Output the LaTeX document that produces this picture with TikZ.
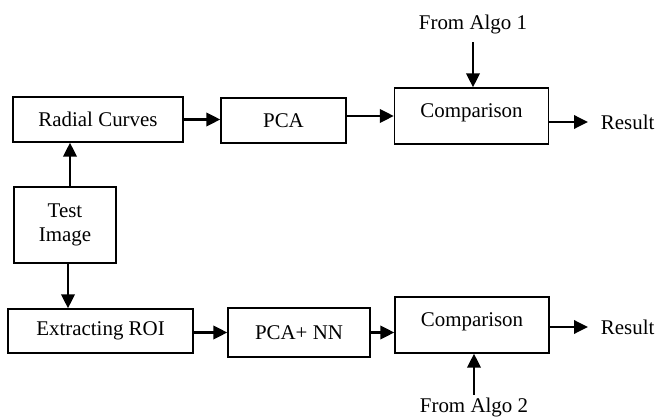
\documentclass[tikz,border=0pt]{standalone}
\usepackage{fontspec}
\setmainfont{Liberation Serif}
\usetikzlibrary{arrows.meta}

\begin{document}
\begin{tikzpicture}[x=0.75pt,y=-0.75pt,
	every node/.style={font=\fontsize{15.7}{18}\selectfont},
	blk/.style={draw,line width=1pt,inner sep=0pt,align=center},
	cmpbox/.style={blk,minimum width=154*0.75pt,minimum height=56*0.75pt,text height=10.6pt,text depth=7.9pt},
	lbl/.style={inner sep=2pt},
	arr/.style={line width=1.8pt,-{Triangle[length=10.5pt,width=10pt]}}]
	\useasboundingbox (0,0) rectangle (658,417);
	% upper row
	\node[blk,minimum width=170*0.75pt,minimum height=45*0.75pt] (rc) at (98,119.5) {Radial Curves};
	\node[blk,minimum width=125*0.75pt,minimum height=45*0.75pt] (pca) at (283.5,120.5) {PCA};
	\node[cmpbox] (cmp1) at (471.5,116) {Comparison};
	\node[lbl] (from1) at (473,24) {From Algo 1};
	\node[lbl,anchor=west] (res1) at (598,122) {Result};
	% test image
	\node[blk,minimum width=102*0.75pt,minimum height=76*0.75pt] (test) at (65,225) {Test\\Image};
	% lower row
	\node[blk,minimum width=185*0.75pt,minimum height=44*0.75pt] (roi) at (100.5,331) {Extracting ROI};
	\node[blk,minimum width=142*0.75pt,minimum height=49*0.75pt] (pcann) at (299,332.5) {PCA+ NN};
	\node[cmpbox] (cmp2) at (472,325) {Comparison};
	\node[lbl] (from2) at (474,407) {From Algo 2};
	\node[lbl,anchor=west] (res2) at (598,327) {Result};

	\draw[arr] ([xshift=3.75pt]test.north) -- ([xshift=3.75pt]test.north |- rc.south);
	\draw[arr] (rc.east) -- (rc.east -| pca.west);
	\draw[arr] (cmp1.west -| pca.east) -- (cmp1.west);
	\draw[arr] (cmp1.east |- res1.west) -- ([xshift=-7.5pt]res1.west);
	\draw[arr,shorten <=4.5pt] (from1.south) -- (from1.south |- cmp1.north);
	\draw[arr] ([xshift=2.25pt]test.south) -- ([xshift=2.25pt]test.south |- roi.north);
	\draw[arr] (roi.east |- pcann.west) -- (pcann.west);
	\draw[arr] (pcann.east) -- (pcann.east -| cmp2.west);
	\draw[arr] (cmp2.east |- res2.west) -- ([xshift=-7.5pt]res2.west);
	\draw[arr] (from2.north) -- (from2.north |- cmp2.south);
\end{tikzpicture}
\end{document}
